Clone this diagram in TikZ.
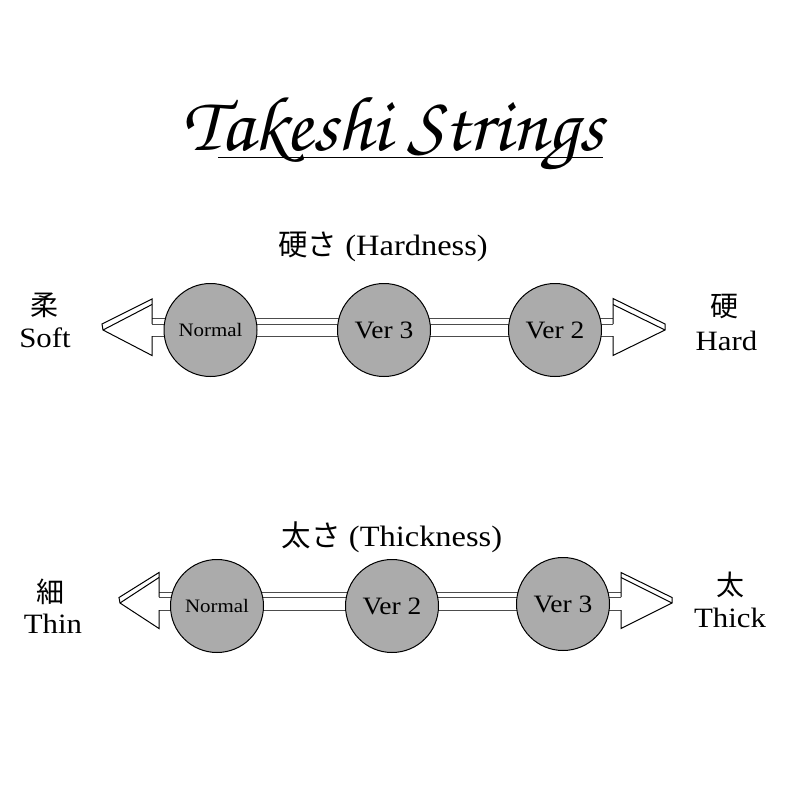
\documentclass[tikz,border=0pt]{standalone}
\usepackage{fontspec}
\setmainfont{Liberation Serif}[FakeStretch=1.1]
\newfontfamily\cjk{Noto Sans CJK JP}
\definecolor{cgray}{RGB}{171,171,171}
\newcommand\titlefont{\fontencoding{OT1}\fontfamily{pzc}\fontseries{mb}\fontshape{it}\selectfont}
\begin{document}
\begin{tikzpicture}[x=1pt,y=-1pt,
  ln/.style={line width=1pt, black, line join=miter},
  sh/.style={line width=1pt, black!70},
  ball/.style={circle, draw=black, line width=1pt, fill=cgray, minimum size=93pt, inner sep=0pt},
  lab/.style={font=\fontsize{28}{30}\selectfont, inner sep=0pt},
  cj/.style={font=\cjk\fontsize{28}{30}\selectfont, inner sep=0pt},
  hdr/.style={font=\fontsize{29.5}{32}\selectfont, inner sep=0pt, anchor=base},
  small/.style={font=\fontsize{19}{20}\selectfont},
  big/.style={font=\fontsize{25}{26}\selectfont}
  ]
\useasboundingbox[fill=white] (0,0) rectangle (800,800);

% title
\node[anchor=base, font=\titlefont\fontsize{78}{82}\selectfont, inner sep=0pt] (title) at (393,150) {Takeshi Strings};
\coordinate (ul1) at (218,157);
\coordinate (ul2) at (603,157);
\draw[line width=0.8pt] (ul1) -- (ul2);

% headers
\node[hdr] (hdr1) at (383,255) {{\cjk 硬さ} (Hardness)};
\node[hdr] (hdr2) at (392,546) {{\cjk 太さ} (Thickness)};

% top row shaft
\draw[sh] (152,318) -- (613,318);
\draw[sh] (152,324) -- (613,324);
\draw[sh] (152,336) -- (613,336);
% left head
\draw[ln] (152,324) -- (152,299) -- (102,324) -- (103,330) -- (152,355.5) -- (152,336);
\draw[ln] (152,304.5) -- (103,330);
% right head
\draw[ln] (613,324) -- (613,298.5) -- (665,324) -- (665,330) -- (613,355.5) -- (613,336);
\draw[ln] (613,304.5) -- (665,330);

\node[ball, small] (n1) at (210.5,330) {Normal};
\node[ball, big] (h3) at (384,330) {Ver 3};
\node[ball, big] (h2) at (555,330) {Ver 2};

% bottom row shaft
\draw[sh] (159,592) -- (621,592);
\draw[sh] (159,597) -- (621,597);
\draw[sh] (159,610) -- (621,610);
% left head
\draw[ln] (159,597) -- (159,572.5) -- (119,597.5) -- (120,603) -- (159,628.5) -- (159,610);
\draw[ln] (159,577.5) -- (120,603);
% right head
\draw[ln] (621,597) -- (621,572.5) -- (672,597.5) -- (672,603) -- (621,628.5) -- (621,610);
\draw[ln] (621,577.5) -- (672,603);

\node[ball, small] (n2) at (217,606) {Normal};
\node[ball, big] (t2) at (392,606) {Ver 2};
\node[ball, big] (t3) at (563,604) {Ver 3};

% side labels
\node[cj] (rou) at (44,305) {柔};
\node[lab, anchor=base] (soft) at (45,347) {Soft};
\node[cj] (kou) at (724,306.5) {硬};
\node[lab, anchor=base] (hard) at (726.5,350) {Hard};
\node[cj] (sai) at (50,592) {細};
\node[lab, anchor=base] (thin) at (53,633) {Thin};
\node[cj] (tai) at (730,585) {太};
\node[lab, anchor=base] (thick) at (730,627) {Thick};
\end{tikzpicture}
\end{document}
